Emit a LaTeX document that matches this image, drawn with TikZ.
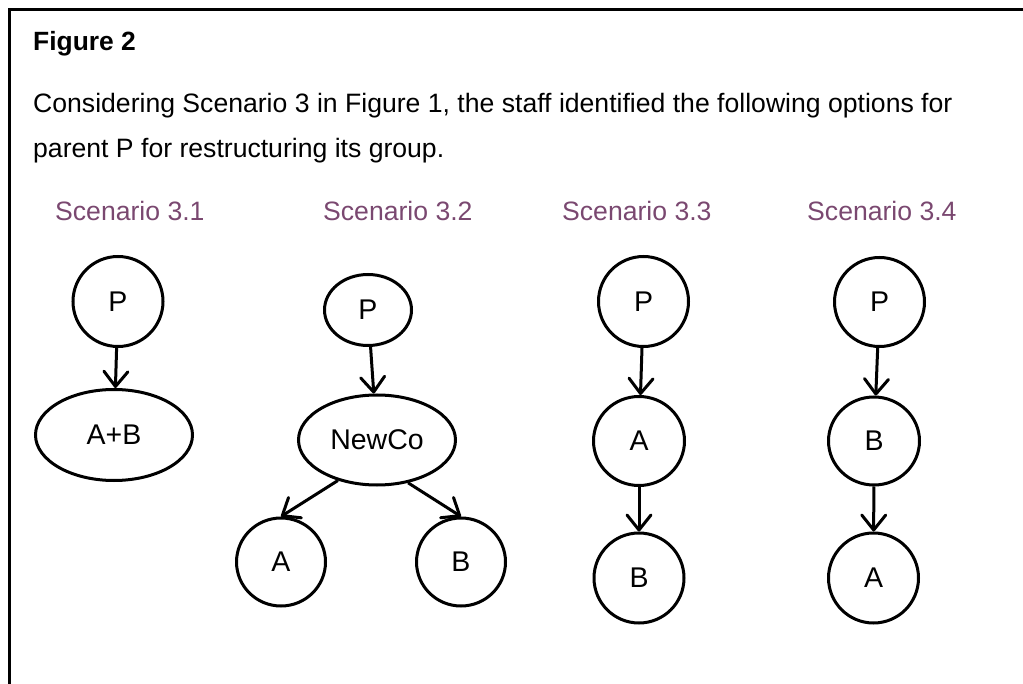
\documentclass[tikz,border=0pt]{standalone}
\usepackage{fontspec}
\setmainfont{Liberation Sans}
\usetikzlibrary{shapes.geometric,arrows.meta}
\definecolor{scenpurple}{RGB}{122,72,112}
\begin{document}
\begin{tikzpicture}[x=1pt,y=-1pt,
  txt/.style={anchor=base west,inner sep=0pt,font=\fontsize{26.6}{30}\selectfont},
  scen/.style={txt,text=scenpurple},
  nodeell/.style={ellipse,draw,line width=3pt,inner sep=0pt,font=\fontsize{28.5}{32}\selectfont},
  conn/.style={line width=3pt,-{Straight Barb[length=15pt,width=24pt,line cap=round,line join=round]}}
]
\useasboundingbox (0,0) rectangle (1023,684);
\coordinate (tr) at (1023,9.5);
\coordinate (tl) at (9.5,9.5);
\coordinate (bl) at (9.5,684);
\draw[line width=2.5pt] (tr) -- (tl) -- (bl);

\node[txt,font=\fontsize{26.4}{30}\selectfont\bfseries] (title) at (33,51) {Figure 2};
\node[txt] (l1) at (33,113) {Considering Scenario 3 in Figure 1, the staff identified the following options for};
\node[txt] (l2) at (33,158) {parent P for restructuring its group.};

\node[scen] (s1) at (55,221) {Scenario 3.1};
\node[scen] (s2) at (323,221) {Scenario 3.2};
\node[scen] (s3) at (562,221) {Scenario 3.3};
\node[scen] (s4) at (807,221) {Scenario 3.4};

% Scenario 3.1
\node[nodeell,minimum width=90pt,minimum height=90pt] (P1) at (118,301.5) {P};
\node[nodeell,minimum width=157pt,minimum height=91pt] (AB) at (114,435) {A+B};
\draw[conn] (P1) -- (AB);

% Scenario 3.2
\node[nodeell,minimum width=87pt,minimum height=71pt] (P2) at (368,310) {P};
\node[nodeell,minimum width=157pt,minimum height=90pt] (NC) at (377,440) {NewCo};
\node[nodeell,minimum width=89pt,minimum height=88pt] (A2) at (281,562) {A};
\node[nodeell,minimum width=89pt,minimum height=88pt] (B2) at (461,562) {B};
\draw[conn] (P2) -- (NC);
\draw[conn] (NC.226) -- (A2.north);
\draw[conn] (NC.306) -- (B2.north);

% Scenario 3.3
\node[nodeell,minimum width=90pt,minimum height=90pt] (P3) at (643.5,301.5) {P};
\node[nodeell,minimum width=91pt,minimum height=89pt] (A3) at (639,441) {A};
\node[nodeell,minimum width=90pt,minimum height=90pt] (B3) at (639,578) {B};
\draw[conn] (P3) -- (A3);
\draw[conn] (A3) -- (B3);

% Scenario 3.4
\node[nodeell,minimum width=90pt,minimum height=89pt] (P4) at (879.5,302) {P};
\node[nodeell,minimum width=91pt,minimum height=88pt] (B4) at (874,441) {B};
\node[nodeell,minimum width=90pt,minimum height=90pt] (A4) at (873.5,578) {A};
\draw[conn] (P4) -- (B4);
\draw[conn] (B4) -- (A4);
\end{tikzpicture}
\end{document}
